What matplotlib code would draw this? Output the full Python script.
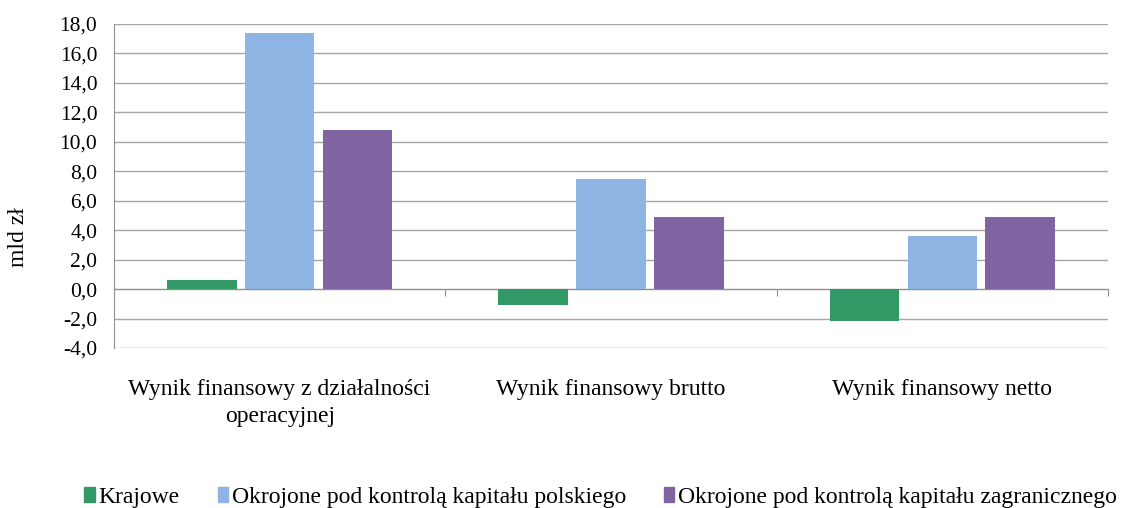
import matplotlib.pyplot as plt
import numpy as np
from matplotlib.ticker import FuncFormatter
from matplotlib.patches import Patch

plt.rcParams['font.family'] = 'serif'
plt.rcParams['font.serif'] = ['Liberation Serif', 'DejaVu Serif']

categories = ['Wynik finansowy z działalności\noperacyjnej', 'Wynik finansowy brutto', 'Wynik finansowy netto']
series = ['Krajowe', 'Okrojone pod kontrolą kapitału polskiego', 'Okrojone pod kontrolą kapitału zagranicznego']
krajowe = [0.6, -1.1, -2.2]
polskie = [17.4, 7.5, 3.6]
zagraniczne = [10.8, 4.9, 4.9]
colors = ['#339966', '#8eb4e3', '#8064a2']

fig = plt.figure(figsize=(11.29, 5.08), dpi=100)
ax = fig.add_axes([114 / 1129, 1 - 348 / 508, 994 / 1129, 324 / 508])

index = np.arange(len(categories))
width = 0.21
step = 0.235
for i, vals in enumerate([krajowe, polskie, zagraniczne]):
    ax.bar(index + (i - 1) * step, vals, width, color=colors[i], zorder=3, label=series[i])

ax.set_xlim(-0.5, 2.5)
ax.set_ylim(-4, 18)
ax.set_yticks(np.arange(-4, 19, 2))
ax.yaxis.set_major_formatter(FuncFormatter(lambda v, p: ('%.1f' % v).replace('.', ',')))
ax.grid(axis='y', color='#a6a6a6', linewidth=1, zorder=0)
ax.tick_params(axis='y', length=0, labelsize=15.5, pad=12)

# os kategorii w zerze z kreskami na granicach grup
ax.spines['bottom'].set_position(('data', 0))
ax.spines['bottom'].set_color('#909090')
ax.spines['left'].set_color('#909090')
ax.spines['top'].set_visible(False)
ax.spines['right'].set_visible(False)
ax.set_xticks([0.5, 1.5, 2.5])
ax.set_xticklabels([])
ax.tick_params(axis='x', direction='out', length=5, color='#909090')

for i, c in enumerate(categories):
    ax.text(i, -6.1, c, ha='center', va='top', fontsize=17, linespacing=1.35)

ax.set_ylabel('mld zł', fontsize=17)
ax.yaxis.set_label_coords(-0.086, 0.343)

handles = [Patch(color=c) for c in colors]
fig.legend(handles, series, loc='lower center', bbox_to_anchor=(0.532, -0.042), ncol=3,
           frameon=False, fontsize=17, handlelength=0.45, handleheight=0.6,
           handletextpad=0.15, columnspacing=1.6)

fig.savefig('out.png', dpi=100)
